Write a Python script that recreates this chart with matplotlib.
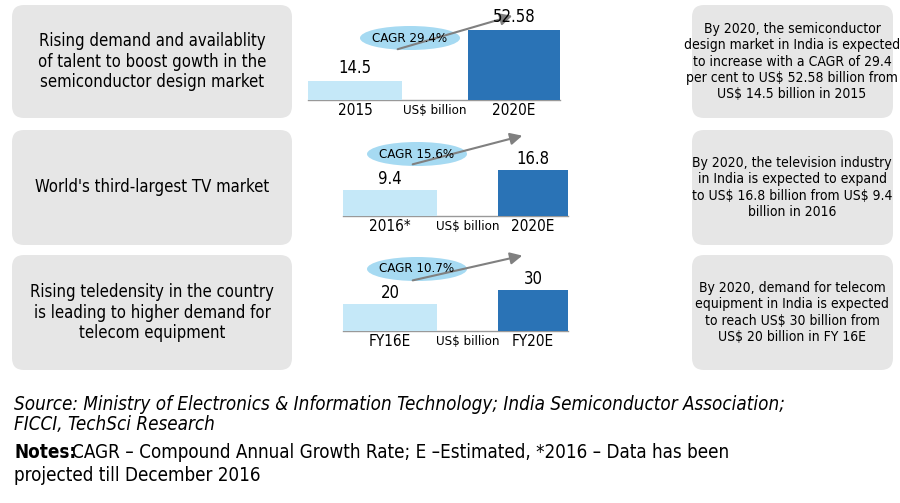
import matplotlib.pyplot as plt
from matplotlib.patches import FancyBboxPatch, Ellipse

plt.rcParams['font.family'] = ['DejaVu Sans']
plt.rcParams['font.stretch'] = 'condensed'
plt.rcParams['text.parse_math'] = False

W, H = 900, 503
LIGHT = '#c5e8f8'
DARK = '#2a73b6'
BOX = '#e6e6e6'

rows = [
    dict(left="Rising demand and availablity\nof talent to boost gowth in the\nsemiconductor design market",
         right="By 2020, the semiconductor\ndesign market in India is expected\nto increase with a CAGR of 29.4\nper cent to US$ 52.58 billion from\nUS$ 14.5 billion in 2015",
         labels=["2015", "2020E"], vals=[14.5, 52.58], cagr="CAGR 29.4%",
         y0=5, y1=118, base=100, top=30, x1=(308, 402), x2=(468, 560), ell=(410, 38), arr=((395, 50), (515, 15))),
    dict(left="World's third-largest TV market",
         right="By 2020, the television industry\nin India is expected to expand\nto US$ 16.8 billion from US$ 9.4\nbillion in 2016",
         labels=["2016*", "2020E"], vals=[9.4, 16.8], cagr="CAGR 15.6%",
         y0=130, y1=245, base=216, top=170, x1=(343, 437), x2=(498, 568), ell=(417, 154), arr=((410, 165), (525, 135))),
    dict(left="Rising teledensity in the country\nis leading to higher demand for\ntelecom equipment",
         right="By 2020, demand for telecom\nequipment in India is expected\nto reach US$ 30 billion from\nUS$ 20 billion in FY 16E",
         labels=["FY16E", "FY20E"], vals=[20, 30], cagr="CAGR 10.7%",
         y0=255, y1=370, base=331, top=290, x1=(343, 437), x2=(498, 568), ell=(417, 269), arr=((410, 281), (525, 255))),
]

fig = plt.figure(figsize=(9, 5.03), dpi=100)
bg = fig.add_axes([0, 0, 1, 1])
bg.set_xlim(0, W)
bg.set_ylim(H, 0)
bg.axis('off')

for r in rows:
    for (xa, xb) in [(12, 292), (692, 893)]:
        bg.add_patch(FancyBboxPatch((xa, r['y0']), xb - xa, r['y1'] - r['y0'],
                                    boxstyle="round,pad=0,rounding_size=12", fc=BOX, ec='none'))
    cy = (r['y0'] + r['y1']) / 2
    bg.text(152, cy, r['left'], ha='center', va='center', fontsize=12, linespacing=1.15)
    bg.text(792, cy, r['right'], ha='center', va='center', fontsize=10, linespacing=1.2)

    # bar panel in pixel-positioned axes
    xl, xr = 300, 580
    ax = fig.add_axes([xl / W, 1 - r['base'] / H, (xr - xl) / W, (r['base'] - r['top']) / H])
    ax.set_xlim(xl, xr)
    ax.set_ylim(0, max(r['vals']))
    ax.axis('off')
    for (a, b), v, c in zip([r['x1'], r['x2']], r['vals'], [LIGHT, DARK]):
        ax.bar((a + b) / 2, v, width=b - a, color=c)
        ax.text((a + b) / 2, v + max(r['vals']) * 0.05, f"{v:g}", ha='center', va='bottom', fontsize=12)
    bg.plot([r['x1'][0], r['x2'][1]], [r['base'], r['base']], color='#999999', lw=1)
    bg.text((r['x1'][0] + r['x1'][1]) / 2, r['base'] + 3, r['labels'][0], ha='center', va='top', fontsize=11)
    bg.text((r['x2'][0] + r['x2'][1]) / 2, r['base'] + 3, r['labels'][1], ha='center', va='top', fontsize=11)
    bg.text((r['x1'][1] + r['x2'][0]) / 2, r['base'] + 4, "US$ billion", ha='center', va='top', fontsize=9.5)

    (ax0, ay0), (ax1, ay1) = r['arr']
    bg.annotate('', xy=(ax1, ay1), xytext=(ax0, ay0),
                arrowprops=dict(arrowstyle='-|>', color='#808080', lw=1.5, mutation_scale=18))
    bg.add_patch(Ellipse(r['ell'], 100, 24, fc='#a6daf2', ec='none'))
    bg.text(r['ell'][0], r['ell'][1], r['cagr'], ha='center', va='center', fontsize=9.5)

bg.text(14, 395, "Source: Ministry of Electronics & Information Technology; India Semiconductor Association;\nFICCI, TechSci Research",
        ha='left', va='top', fontsize=13.5, style='italic', linespacing=1.05)
bg.text(14, 443, "Notes:", ha='left', va='top', fontsize=13.5, weight='bold')
bg.text(72, 443, "CAGR – Compound Annual Growth Rate; E –Estimated, *2016 – Data has been",
        ha='left', va='top', fontsize=13.5)
bg.text(14, 466, "projected till December 2016", ha='left', va='top', fontsize=13.5)

fig.savefig('out.png', dpi=100)
